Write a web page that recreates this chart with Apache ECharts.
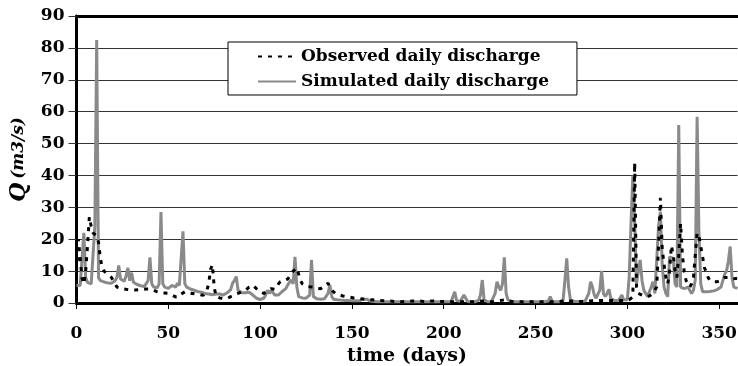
<!DOCTYPE html>
<html>
<head>
<meta charset="utf-8">
<script src="https://cdn.jsdelivr.net/npm/echarts@6/dist/echarts.min.js"></script>
<style>
  html, body { margin: 0; padding: 0; background: #fff; }
  #chart { width: 738px; height: 366px; }
</style>
</head>
<body>
<div id="chart"></div>
<script>
// daily discharge, index = day (0..360)
const simulated = [
  5.5, 5.5, 5.5, 6, 22, 8, 6.5, 6.2, 6, 6,
  24, 82.5, 8, 7, 6.8, 6.6, 6.5, 6.3, 6.2, 6.2,
  6.3, 7, 8, 11.8, 7.5, 8, 6.8, 8.5, 11, 7,
  9.5, 6.5, 6, 5.8, 5.5, 5.4, 5.3, 5.2, 5.5, 7,
  14.3, 6, 5, 4.8, 4.8, 6, 28.5, 6, 5, 4.8,
  4.6, 4.5, 5.5, 6, 5, 6.2, 5.5, 6, 22.5, 6,
  5, 4.6, 4.4, 4.2, 4, 3.8, 3.6, 3.5, 3.4, 3.2,
  3, 3, 2.8, 2.7, 2.6, 2.6, 2.8, 3, 2.8, 2.6,
  2.5, 2.8, 3.2, 3.6, 4.2, 6.2, 7, 8.3, 4, 3.5,
  3.2, 3, 3.2, 3.6, 3.4, 3, 2.5, 2, 1.5, 1.2,
  1.1, 1.3, 1.5, 2.5, 4, 3, 4, 4.5, 2.5, 2.5,
  2.5, 3, 3.6, 4, 4.5, 5.6, 6.5, 7.2, 6, 14.5,
  5, 2, 1.8, 1.6, 1.5, 1.5, 1.5, 2.5, 13.5, 2,
  1.5, 1.3, 1.2, 1.2, 1.2, 1.3, 1.5, 3, 5.6, 2,
  1.2, 1, 1, 0.9, 0.9, 0.9, 0.8, 0.8, 0.8, 0.8,
  0.7, 0.7, 0.7, 0.7, 0.7, 0.8, 1.2, 1.7, 1.2, 0.7,
  0.6, 0.5, 0.5, 0.5, 0.4, 0.4, 0.4, 0.4, 0.4, 0.4,
  0.4, 0.4, 0.4, 0.4, 0.4, 0.4, 0.4, 0.4, 0.4, 0.4,
  0.4, 0.4, 0.4, 0.4, 0.4, 0.4, 0.4, 0.4, 0.4, 0.4,
  0.4, 0.4, 0.4, 0.4, 0.4, 0.4, 0.4, 0.4, 0.4, 0.4,
  0.4, 0.4, 0.4, 0.4, 0.4, 1, 3.5, 0.8, 0.5, 0.5,
  0.6, 2.5, 2, 0.5, 0.4, 0.4, 0.4, 0.4, 0.5, 0.8,
  2.5, 7.2, 1, 0.5, 0.4, 0.4, 0.5, 0.8, 3, 6.7,
  5, 4, 6, 14.3, 3, 1, 0.6, 0.5, 0.5, 0.4,
  0.4, 0.4, 0.4, 0.4, 0.4, 0.4, 0.4, 0.4, 0.4, 0.4,
  0.4, 0.4, 0.4, 0.4, 0.4, 0.4, 0.4, 0.6, 2, 0.5,
  0.4, 0.4, 0.4, 0.4, 0.4, 0.8, 7, 14, 5, 1,
  0.6, 0.5, 0.5, 0.5, 0.5, 0.5, 0.5, 0.6, 1, 3,
  6.7, 5, 2.5, 1.5, 1, 4, 10.1, 3, 2, 3,
  4.3, 1.5, 1, 0.8, 0.8, 0.8, 1.5, 2.5, 1, 0.5,
  1, 8, 25, 40, 25, 6, 10, 13.5, 7, 4,
  3, 2, 2.5, 5, 6.7, 3, 2.5, 24, 28.6, 12,
  5, 3, 2, 14.5, 15, 14, 6, 5, 55.8, 5,
  4.6, 4.5, 4.6, 5, 5.6, 3, 4, 7.2, 58.4, 22,
  6, 3.5, 3.5, 3.5, 3.5, 3.6, 3.7, 3.8, 4, 4.2,
  4.5, 5, 5, 9, 10, 13, 17.7, 8, 5, 4.6,
  4.6
];

const observed = [
  10, 20, 14, 8, 6, 10, 18, 27, 24, 22,
  22, 21, 19, 14, 11, 10, 9.5, 9, 8.5, 8,
  7, 6, 5, 4.8, 4.6, 4.5, 4.4, 4.3, 4.2, 4.2,
  4.1, 4.1, 4.1, 4.2, 4.2, 4.3, 4.3, 4.4, 4.4, 4.4,
  4.4, 4.3, 4, 3.8, 3.5, 3.2, 3.2, 3.1, 3.1, 3.1,
  3, 2.8, 2.5, 2.2, 1.9, 1.6, 2, 2.8, 3.3, 3.5,
  3.3, 3.2, 3.1, 3, 2.9, 2.8, 2.7, 2.6, 2.5, 2.4,
  2.5, 4, 6, 10.5, 12, 5, 2, 1.8, 1.6, 1.5,
  1.4, 1.4, 1.4, 1.5, 2, 2.2, 2.5, 3, 3, 3.5,
  3.5, 4, 4, 4.5, 5, 5.3, 5.6, 5, 4.5, 4,
  3.5, 3.2, 3, 3.3, 3.8, 4.2, 4.5, 4.5, 4.3, 5,
  6, 6.7, 7, 7, 7, 7.5, 8, 9, 10, 10.5,
  11, 11, 7, 6, 5.5, 5.3, 5.2, 5.1, 5.1, 5,
  4.8, 4.6, 4.5, 4.5, 4.8, 5.2, 5.8, 6.2, 5, 4,
  3.5, 3, 2.8, 2.6, 2.4, 2.2, 2.1, 2, 1.9, 1.8,
  1.7, 1.6, 1.5, 1.5, 1.4, 1.3, 1.3, 1.2, 1.1, 1.1,
  1, 1, 0.9, 0.9, 0.8, 0.8, 0.8, 0.7, 0.7, 0.7,
  0.6, 0.6, 0.6, 0.5, 0.5, 0.5, 0.4, 0.4, 0.4, 0.5,
  0.5, 0.5, 0.6, 0.6, 0.6, 0.7, 0.7, 0.6, 0.6, 0.5,
  0.5, 0.5, 0.6, 0.6, 0.6, 0.6, 0.5, 0.5, 0.5, 0.5,
  0.5, 0.5, 0.5, 0.4, 0.4, 0.4, 0.5, 0.5, 0.4, 0.4,
  0.4, 0.4, 0.4, 0.4, 0.4, 0.4, 0.4, 0.4, 0.4, 0.5,
  0.5, 0.6, 0.5, 0.5, 0.4, 0.4, 0.4, 0.4, 0.5, 0.6,
  0.7, 0.8, 0.9, 1, 0.8, 0.6, 0.5, 0.5, 0.4, 0.4,
  0.4, 0.4, 0.4, 0.4, 0.4, 0.4, 0.4, 0.4, 0.4, 0.4,
  0.4, 0.4, 0.4, 0.4, 0.4, 0.4, 0.4, 0.4, 0.4, 0.4,
  0.4, 0.4, 0.4, 0.4, 0.5, 0.6, 0.8, 1, 0.8, 0.6,
  0.5, 0.5, 0.5, 0.5, 0.5, 0.5, 0.5, 0.5, 0.6, 0.6,
  0.7, 0.7, 0.7, 0.7, 0.7, 0.8, 0.8, 0.8, 0.8, 0.8,
  0.8, 0.8, 0.8, 0.8, 0.8, 0.8, 0.8, 0.8, 0.8, 0.8,
  0.8, 1, 1, 2, 44, 5, 3, 2.5, 2.5, 2.2,
  2, 2, 2.2, 2.5, 3, 3.5, 5, 18, 33, 17,
  12, 8, 6, 10, 18, 15, 10, 8, 15, 25,
  15, 9.8, 7, 6.2, 5, 6, 8, 15, 22, 21,
  17.7, 14.5, 11, 9.8, 8, 7, 6.7, 6.7, 6.7, 6.7,
  6.8, 7, 7.5, 8, 8.3, 8, 7.5, 7.5, 7.6, 7.7,
  7.7
];

const seriesNames = ['Observed daily discharge', 'Simulated daily discharge'];

const font = 'DejaVu Serif';

const chart = echarts.init(document.getElementById('chart'), null, { renderer: 'canvas' });

const option = {
  animation: false,
  backgroundColor: '#fff',
  textStyle: { fontFamily: font, color: '#000' },
  grid: { left: 76.5, right: 0.5, top: 16, bottom: 63, outerBoundsMode: 'none', containLabel: false },
  legend: {
    data: seriesNames,
    orient: 'vertical',
    left: 228,
    top: 42,
    backgroundColor: '#fff',
    borderColor: '#000',
    borderWidth: 1,
    borderRadius: 0,
    padding: [6, 28, 5, 29],
    itemWidth: 38,
    itemHeight: 12,
    itemGap: 8,
    itemStyle: { opacity: 0 },
    textStyle: { fontFamily: font, fontWeight: 'bold', fontSize: 17, color: '#000' }
  },
  xAxis: [{
    type: 'value',
    min: 0,
    max: 360,
    interval: 50,
    name: 'time (days)',
    nameLocation: 'middle',
    nameGap: 38,
    nameTextStyle: { fontFamily: font, fontWeight: 'bold', fontSize: 19, color: '#000' },
    axisLine: { onZero: false, lineStyle: { color: '#000', width: 3 } },
    axisTick: { show: true, inside: false, length: 6, lineStyle: { color: '#000', width: 1 } },
    axisLabel: { showMaxLabel: false, margin: 22, fontFamily: font, fontWeight: 'bold', fontSize: 17, color: '#000' },
    splitLine: { show: false }
  }, {
    type: 'value',
    position: 'top',
    min: 0,
    max: 360,
    axisLine: { show: true, onZero: false, lineStyle: { color: '#000', width: 3 } },
    axisTick: { show: false },
    axisLabel: { show: false },
    splitLine: { show: false }
  }],
  yAxis: {
    type: 'value',
    min: 0,
    max: 90,
    interval: 10,
    name: '{q|Q} {u|(m3/s)}',
    nameLocation: 'middle',
    nameGap: 42,
    nameTextStyle: {
      rich: {
        q: { fontFamily: font, fontWeight: 'bold', fontStyle: 'italic', fontSize: 22, color: '#000' },
        u: { fontFamily: font, fontWeight: 'bold', fontStyle: 'italic', fontSize: 17, color: '#000' }
      }
    },
    axisLine: { show: true, lineStyle: { color: '#000', width: 3 } },
    axisTick: { show: true, length: 8, lineStyle: { color: '#333', width: 1 } },
    axisLabel: { margin: 12, fontFamily: font, fontWeight: 'bold', fontSize: 17, color: '#000' },
    splitLine: { show: true, lineStyle: { color: '#333', width: 1 } }
  },
  series: [{
    name: seriesNames[1],
    type: 'line',
    data: simulated.map((v, i) => [i, v]),
    symbol: 'none',
    z: 2,
    lineStyle: { color: '#8a8a8a', width: 3 },
    itemStyle: { color: '#8a8a8a' }
  }, {
    name: seriesNames[0],
    type: 'line',
    data: observed.map((v, i) => [i, v]),
    symbol: 'none',
    z: 3,
    lineStyle: { color: '#000', width: 3, type: [4, 6] },
    itemStyle: { color: '#000' }
  }]
};

chart.setOption(option);
</script>
</body>
</html>
